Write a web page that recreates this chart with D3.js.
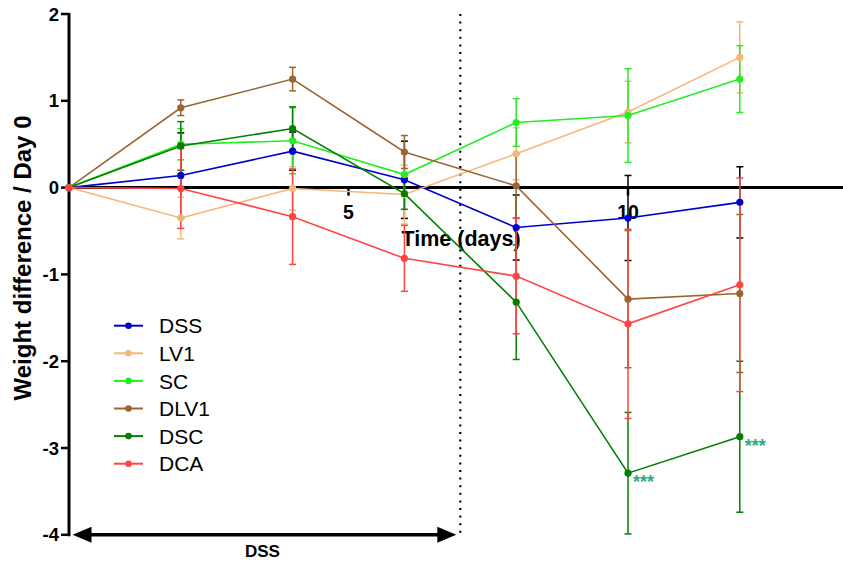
<!DOCTYPE html>
<html>
<head>
<meta charset="utf-8">
<script src="https://cdn.jsdelivr.net/npm/d3@7"></script>
<style>
  html, body { margin: 0; padding: 0; background: #fff; }
  svg { display: block; font-family: "Liberation Sans", Arial, sans-serif; }
</style>
</head>
<body>
<svg id="chart" width="843" height="565"></svg>
<script>
// Days of measurement
const days = [0, 2, 4, 6, 8, 10, 12];

// Mean weight difference relative to day 0, and standard error, per group
const dssMean  = [0, 0.14, 0.42, 0.09, -0.46, -0.35, -0.17];
const dssSE    = [0, 0.49, 0.22, 0.445, 0.375, 0.49, 0.41];
const lv1Mean  = [0, -0.35, -0.01, -0.08, 0.39, 0.87, 1.50];
const lv1SE    = [0, 0.24, 0.25, 0.34, 0.30, 0.355, 0.41];
const scMean   = [0, 0.50, 0.54, 0.15, 0.75, 0.83, 1.25];
const scSE     = [0, 0.18, 0.38, 0.25, 0.275, 0.54, 0.385];
const dlv1Mean = [0, 0.92, 1.25, 0.41, 0.02, -1.285, -1.22];
const dlv1SE   = [0, 0.09, 0.135, 0.19, 0.37, 0.79, 0.91];
const dscMean  = [0, 0.48, 0.68, -0.07, -1.32, -3.29, -2.87];
const dscSE    = [0, 0.28, 0.25, 0.18, 0.66, 0.70, 0.87];
const dcaMean  = [0, -0.01, -0.335, -0.815, -1.02, -1.57, -1.12];
const dcaSE    = [0, 0.46, 0.55, 0.38, 0.665, 1.09, 1.23];

const groupNames  = ["DSS", "LV1", "SC", "DLV1", "DSC", "DCA"];
const groupColors = ["#0000cc", "#f4b77c", "#22ee22", "#996633", "#008000", "#ff4444"];
const errorColors = ["#000000", "#f4b77c", "#22ee22", "#996633", "#008000", "#ff4444"];

// Axis ticks
const yTicks = [-4, -3, -2, -1, 0, 1, 2];
const xTicks = [5, 10];

// DSS treatment period (days) and significance marks
const dssPeriod = [0, 7];
const sigDays = [10, 12];
const sigText = "***";

const groups = groupNames.map((name, i) => ({
  name,
  color: groupColors[i],
  errColor: errorColors[i],
  mean: [dssMean, lv1Mean, scMean, dlv1Mean, dscMean, dcaMean][i],
  se: [dssSE, lv1SE, scSE, dlv1SE, dscSE, dcaSE][i]
}));

const svg = d3.select("#chart");

const x = d3.scaleLinear().domain([0, 12]).range([69, 739.8]);
const y = d3.scaleLinear().domain([-4, 2]).range([534.8, 14]);

// Y axis
const yAxis = svg.append("g").attr("transform", `translate(${x(0)},0)`);
yAxis.append("line")
  .attr("x1", 0).attr("x2", 0)
  .attr("y1", y(2) - 1).attr("y2", y(-4) + 1.5)
  .attr("stroke", "#000").attr("stroke-width", 3);
yAxis.selectAll("line.tick").data(yTicks).join("line")
  .attr("class", "tick")
  .attr("x1", -8).attr("x2", 0)
  .attr("y1", d => y(d)).attr("y2", d => y(d))
  .attr("stroke", "#000").attr("stroke-width", 2.5);
yAxis.selectAll("text").data(yTicks).join("text")
  .attr("x", -10).attr("y", d => y(d) + 6.5)
  .attr("text-anchor", "end")
  .attr("font-size", 18.5).attr("font-weight", "bold")
  .text(d => d);

// X axis along y = 0
const xAxis = svg.append("g").attr("transform", `translate(0,${y(0)})`);
xAxis.append("line")
  .attr("x1", x(0)).attr("x2", 843)
  .attr("y1", 0).attr("y2", 0)
  .attr("stroke", "#000").attr("stroke-width", 3);
xAxis.selectAll("line.tick").data(xTicks).join("line")
  .attr("class", "tick")
  .attr("x1", d => x(d)).attr("x2", d => x(d))
  .attr("y1", 0).attr("y2", 8)
  .attr("stroke", "#000").attr("stroke-width", 2.5);
xAxis.selectAll("text").data(xTicks).join("text")
  .attr("x", d => x(d)).attr("y", 31)
  .attr("text-anchor", "middle")
  .attr("font-size", 19.5).attr("font-weight", "bold")
  .text(d => d);

// Axis titles
svg.append("text")
  .attr("x", 461).attr("y", 246)
  .attr("text-anchor", "middle")
  .attr("font-size", 21.5).attr("font-weight", "bold")
  .text("Time (days)");
svg.append("text")
  .attr("transform", "translate(31,258) rotate(-90)")
  .attr("text-anchor", "middle")
  .attr("font-size", 24).attr("font-weight", "bold")
  .text("Weight difference / Day 0");

// End of DSS period: dotted line
svg.append("line")
  .attr("x1", x(dssPeriod[1])).attr("x2", x(dssPeriod[1]))
  .attr("y1", y(2)).attr("y2", y(-4) - 2)
  .attr("stroke", "#000").attr("stroke-width", 2.2)
  .attr("stroke-dasharray", "2,5.6");

// DSS period double arrow
const ay = y(-4);
const ax0 = x(dssPeriod[0]) + 3.5, ax1 = x(dssPeriod[1]) - 4;
svg.append("line")
  .attr("x1", ax0 + 10).attr("x2", ax1 - 10)
  .attr("y1", ay).attr("y2", ay)
  .attr("stroke", "#000").attr("stroke-width", 3.5);
svg.append("path")
  .attr("d", `M${ax0},${ay} L${ax0 + 19},${ay - 8} L${ax0 + 19},${ay + 8} Z`)
  .attr("fill", "#000");
svg.append("path")
  .attr("d", `M${ax1},${ay} L${ax1 - 19},${ay - 8} L${ax1 - 19},${ay + 8} Z`)
  .attr("fill", "#000");
svg.append("text")
  .attr("x", (ax0 + ax1) / 2 - 2).attr("y", 557)
  .attr("text-anchor", "middle")
  .attr("font-size", 17).attr("font-weight", "bold")
  .text("DSS");

// Series: error bars, lines, markers
const line = d3.line().x(d => x(d.day)).y(d => y(d.v));
const capW = 3.5;

groups.forEach(g => {
  const pts = days.map((day, i) => ({ day, v: g.mean[i], se: g.se[i] }));
  const layer = svg.append("g");
  const eb = layer.append("g").attr("stroke", g.errColor).attr("stroke-width", 1.5);
  pts.filter(p => p.se > 0).forEach(p => {
    const cx = x(p.day), top = y(p.v + p.se), bot = y(p.v - p.se);
    eb.append("line").attr("x1", cx).attr("x2", cx).attr("y1", top).attr("y2", bot);
    eb.append("line").attr("x1", cx - capW).attr("x2", cx + capW).attr("y1", top).attr("y2", top);
    eb.append("line").attr("x1", cx - capW).attr("x2", cx + capW).attr("y1", bot).attr("y2", bot);
  });
  g.pts = pts;
});

groups.forEach(g => {
  svg.append("path")
    .attr("d", line(g.pts))
    .attr("fill", "none")
    .attr("stroke", g.color)
    .attr("stroke-width", 1.6);
  svg.append("g").selectAll("circle").data(g.pts).join("circle")
    .attr("cx", d => x(d.day)).attr("cy", d => y(d.v))
    .attr("r", 3.6).attr("fill", g.color);
});

// Significance marks next to DSC points
const dsc = groups.find(g => g.name === "DSC");
svg.append("g").selectAll("text").data(sigDays).join("text")
  .attr("x", d => x(d) + 5)
  .attr("y", d => y(dsc.mean[days.indexOf(d)]) + 15)
  .attr("font-size", 18).attr("font-weight", "bold").attr("fill", "#2eaa7e")
  .text(sigText);

// Legend
const legend = svg.append("g");
groups.forEach((g, i) => {
  const ry = 325.7 + i * 27.6;
  legend.append("line")
    .attr("x1", 114).attr("x2", 143).attr("y1", ry).attr("y2", ry)
    .attr("stroke", g.color).attr("stroke-width", 2);
  legend.append("circle").attr("cx", 128.5).attr("cy", ry).attr("r", 3.3).attr("fill", g.color);
  legend.append("text")
    .attr("x", 159).attr("y", ry + 7.6)
    .attr("font-size", 21)
    .text(g.name);
});
</script>
</body>
</html>
